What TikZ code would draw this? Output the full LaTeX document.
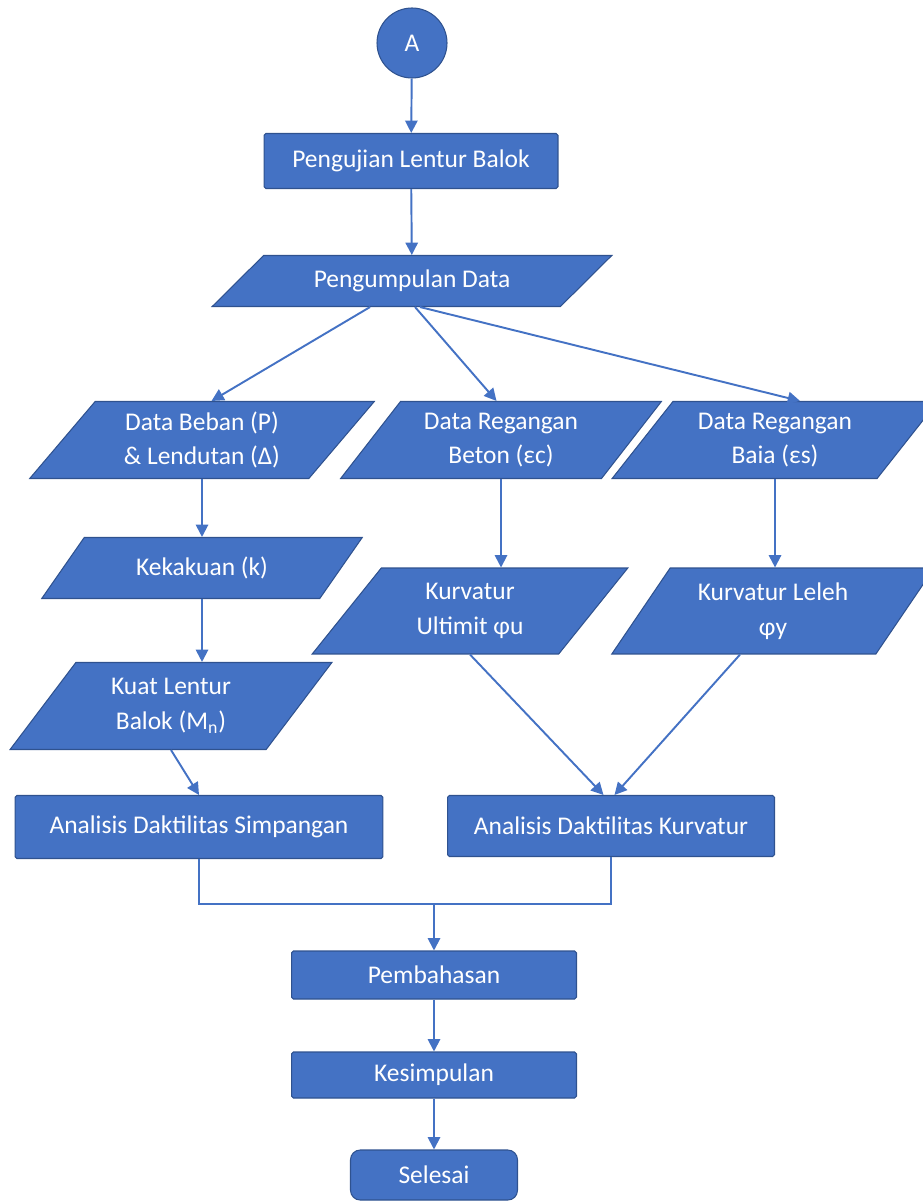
\documentclass[tikz,border=0pt]{standalone}
\usepackage{fontspec}
\setmainfont{Carlito}
\usetikzlibrary{shapes.geometric, arrows.meta}
\definecolor{boxblue}{HTML}{4472C4}
\definecolor{edgeblue}{HTML}{2F528F}

\begin{document}
\begin{tikzpicture}[x=0.02cm, y=-0.02cm,
  font=\fontsize{14.5}{19.8}\selectfont,
  base/.style={draw=edgeblue, line width=0.6pt, fill=boxblue, text=white,
    align=center, inner sep=0pt},
  proc/.style={base, rectangle, rounded corners=1pt},
  io/.style 2 args={base, trapezium, trapezium left angle=#1,
    trapezium right angle=#2, trapezium stretches=true},
  arr/.style={draw=boxblue, line width=1.1pt, -{Triangle[length=7pt, width=7pt]}},
  line/.style={draw=boxblue, line width=1.1pt}]
  \useasboundingbox (0,0) rectangle (922,1202);

  \node[base, circle, minimum size=1.4cm] (a) at (412,43) {A};
  \node[proc, minimum width=5.88cm, minimum height=1.1cm] (uji) at (411,161) {Pengujian Lentur Balok};
  \node[io={33}{147}, minimum width=8cm, minimum height=1.02cm] (data) at (412,281) {Pengumpulan Data};

  \node[io={50}{130}, minimum width=6.9cm, minimum height=1.54cm] (beban) at (202,440) {Data Beban (P)\\\& Lendutan (Δ)};
  \node[io={50}{130}, minimum width=6.42cm, minimum height=1.54cm] (beton) at (501,440) {Data Regangan\\Beton (εc)};
  \node[io={50}{130}, minimum width=6.52cm, minimum height=1.54cm] (baia) at (775,440) {Data Regangan\\Baia (εs)};

  \node[io={43}{137}, minimum width=6.42cm, minimum height=1.22cm] (kaku) at (202,568) {Kekakuan (k)};
  \node[io={53}{127}, minimum width=6.44cm, minimum height=1.74cm] (kuat) at (171,706) {Kuat Lentur\\Balok (M\textsubscript{n})};
  \node[io={53}{127}, minimum width=6.32cm, minimum height=1.72cm] (ult) at (470,611) {Kurvatur\\Ultimit φu};
  \node[io={53}{127}, minimum width=6.46cm, minimum height=1.72cm] (leleh) at (773,611) {Kurvatur Leleh\\φy};

  \node[proc, minimum width=7.36cm, minimum height=1.26cm] (simp) at (199,827) {Analisis Daktilitas Simpangan};
  \node[proc, minimum width=6.54cm, minimum height=1.22cm] (kurv) at (611,826) {Analisis Daktilitas Kurvatur};
  \node[proc, minimum width=5.7cm, minimum height=0.96cm] (bahas) at (434,975) {Pembahasan};
  \node[proc, minimum width=5.7cm, minimum height=0.92cm] (simpul) at (434,1075) {Kesimpulan};
  \node[base, rounded corners=5.5pt, minimum width=3.34cm, minimum height=1cm] (selesai) at (434,1175) {Selesai};
  \coordinate (m) at (434,904);

  \draw[arr] (a) -- (uji);
  \draw[arr] (uji) -- (data);
  \draw[arr] ([xshift=-0.84cm]data.south) -- ([xshift=0.19cm]beban.north);
  \draw[arr] ([xshift=0.06cm]data.south) -- ([xshift=-0.09cm]beton.north);
  \draw[arr] ([xshift=0.16cm]data.south) -- ([xshift=0.5cm]baia.north);
  \draw[arr] (beban.south) -- (beban.south |- kaku.north);
  \draw[arr] (kaku.south) -- (kaku.south |- kuat.north);
  \draw[arr] (beton.south) -- (beton.south |- ult.north);
  \draw[arr] (baia.south) -- (baia.south |- leleh.north);
  \draw[arr] (kuat.south) -- (simp.north);
  \draw[arr] (ult.south) -- ([xshift=-0.15cm]kurv.north);
  \draw[arr] ([xshift=-0.66cm]leleh.south) -- ([xshift=0.07cm]kurv.north);
  \draw[line] (simp.south) |- (m) -| (kurv.south);
  \draw[arr] (m) -- (bahas);
  \draw[arr] (bahas) -- (simpul);
  \draw[arr] (simpul) -- (selesai);
\end{tikzpicture}
\end{document}
